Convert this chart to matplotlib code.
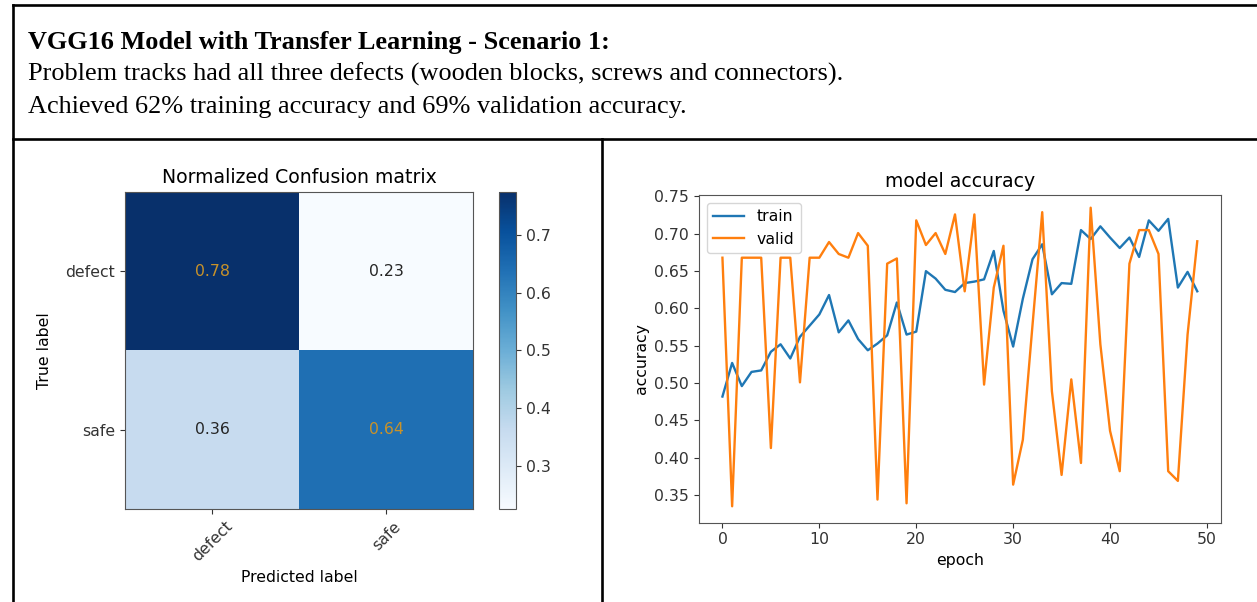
import numpy as np
import matplotlib
matplotlib.use("Agg")
import matplotlib.pyplot as plt
from matplotlib.lines import Line2D

# Data --------------------------------------------------------------------------------------------

classes = ["defect", "safe"]
cm = np.array([[0.775, 0.225],
               [0.36, 0.64]])

epochs = list(range(50))
train_acc = [0.482, 0.527, 0.496, 0.515, 0.517, 0.542, 0.552, 0.533, 0.562, 0.577,
             0.592, 0.618, 0.568, 0.584, 0.559, 0.544, 0.553, 0.564, 0.608, 0.565,
             0.569, 0.650, 0.640, 0.625, 0.622, 0.634, 0.636, 0.639, 0.677, 0.597,
             0.549, 0.613, 0.666, 0.686, 0.619, 0.634, 0.633, 0.705, 0.693, 0.710,
             0.695, 0.681, 0.695, 0.669, 0.718, 0.704, 0.720, 0.628, 0.649, 0.623]
valid_acc = [0.668, 0.335, 0.668, 0.668, 0.668, 0.413, 0.668, 0.668, 0.501, 0.668,
             0.668, 0.689, 0.673, 0.668, 0.701, 0.684, 0.344, 0.660, 0.667, 0.339,
             0.718, 0.685, 0.701, 0.673, 0.726, 0.623, 0.726, 0.498, 0.628, 0.684,
             0.364, 0.424, 0.578, 0.729, 0.489, 0.377, 0.505, 0.393, 0.735, 0.552,
             0.436, 0.382, 0.660, 0.705, 0.705, 0.673, 0.382, 0.369, 0.565, 0.690]

header_title = "VGG16 Model with Transfer Learning - Scenario 1:"
header_lines = ["Problem tracks had all three defects (wooden blocks, screws and connectors).",
                "Achieved 62% training accuracy and 69% validation accuracy."]

# Figure ------------------------------------------------------------------------------------------

plt.rcParams["font.size"] = 11.3
plt.rcParams["lines.linewidth"] = 1.7

W, H = 1257, 602
fig = plt.figure(figsize=(W / 100, H / 100), dpi=100)


def px_rect(l, t, r, b):
    return [l / W, 1 - b / H, (r - l) / W, (b - t) / H]


def px_line(x0, y0, x1, y1):
    fig.add_artist(Line2D([x0 / W, x1 / W], [1 - y0 / H, 1 - y1 / H],
                          transform=fig.transFigure, color="black", lw=1.9,
                          solid_capstyle="projecting"))


# table borders
px_line(12.5, 5, W + 5, 5)
px_line(12.5, 5, 12.5, H + 5)
px_line(12.5, 139.5, W + 5, 139.5)
px_line(602, 139.5, 602, H + 5)

# header text
serif = ["Liberation Serif", "DejaVu Serif"]
fig.text(28 / W, 1 - 49 / H, header_title, family=serif, fontweight="bold",
         fontsize=18.9, va="baseline", ha="left")
for i, line in enumerate(header_lines):
    fig.text(28 / W, 1 - (81 + 32 * i) / H, line, family=serif,
             fontsize=18.9, va="baseline", ha="left")

# Confusion matrix --------------------------------------------------------------------------------
ax1 = fig.add_axes(px_rect(125, 191.7, 473.3, 509))
im = ax1.imshow(cm, interpolation="nearest", cmap=plt.cm.Blues, aspect="auto")
ax1.set_title("Normalized Confusion matrix")
ticks = np.arange(len(classes))
ax1.set_xticks(ticks)
ax1.set_xticklabels(classes, rotation=45)
ax1.set_yticks(ticks)
ax1.set_yticklabels(classes)
ax1.set_xlabel("Predicted label")
ax1.set_ylabel("True label", labelpad=10)
thresh = cm.mean()
for i in range(cm.shape[0]):
    for j in range(cm.shape[1]):
        ax1.text(j, i, format(cm[i, j], ".2f"), ha="center", va="center",
                 color="#c8922a" if cm[i, j] > thresh else "#262626")
for s in ax1.spines.values():
    s.set_color("#555555")

cax = fig.add_axes(px_rect(499.3, 191.7, 516, 509))
cb = fig.colorbar(im, cax=cax)
cb.set_ticks([0.3, 0.4, 0.5, 0.6, 0.7])
cb.outline.set_edgecolor("#555555")

# Accuracy curves ---------------------------------------------------------------------------------
ax2 = fig.add_axes(px_rect(698.7, 195, 1221, 522.7))
ax2.plot(epochs, train_acc, label="train", color="#1f77b4")
ax2.plot(epochs, valid_acc, label="valid", color="#ff7f0e")
ax2.set_title("model accuracy")
ax2.set_xlabel("epoch")
ax2.set_ylabel("accuracy")
ax2.set_ylim(0.313, 0.752)
ax2.set_yticks(np.arange(0.35, 0.751, 0.05))
ax2.legend(loc="upper left")
for s in ax2.spines.values():
    s.set_color("#555555")

for ax in (ax1, ax2, cax):
    ax.tick_params(colors="#333333", labelcolor="#333333")

fig.savefig("out.png", dpi=100)
